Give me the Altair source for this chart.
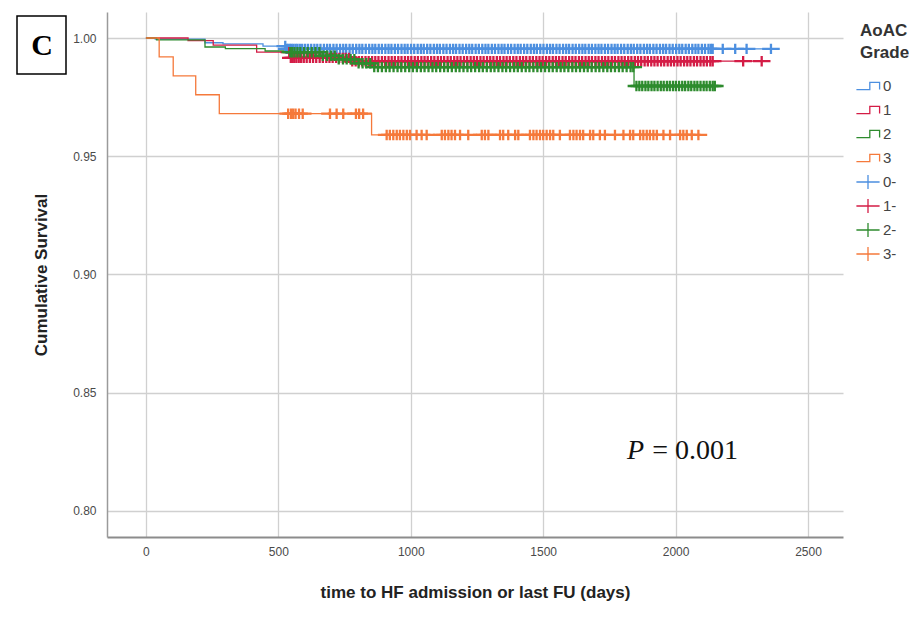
import altair as alt
import pandas as pd

# ---------------- data ----------------
grade_labels = ["0", "1", "2", "3"]
censor_labels = ["0-", "1-", "2-", "3-"]
grade_colors = ["#4c8fe0", "#d41c46", "#2e8b2e", "#f5793b"]

# Kaplan-Meier steps (days, cumulative survival)
g0_time = [0, 35, 223, 291, 442, 530, 2375]
g0_surv = [1.0, 0.9995, 0.9980, 0.9975, 0.9966, 0.9954, 0.9954]
g1_time = [0, 159, 254, 418, 544, 770, 2335]
g1_surv = [1.0, 0.9989, 0.9970, 0.9940, 0.9916, 0.9902, 0.9902]
g2_time = [0, 40, 223, 300, 450, 545, 660, 725, 800, 860, 1843, 2150]
g2_surv = [1.0, 0.9992, 0.9962, 0.9955, 0.9945, 0.9940, 0.9925, 0.9910, 0.9893, 0.9877, 0.9797, 0.9797]
g3_time = [0, 50, 103, 188, 277, 852, 2096]
g3_surv = [1.0, 0.992, 0.984, 0.976, 0.968, 0.959, 0.959]

# censored observations (days)
c0_days = [526, 531, 537, 544, 550, 557, 565, 572, 581, 590, 601, 612, 624, 636, 647, 659, 672, 684,
           695, 708, 720, 733, 745, 756, 769, 781, 794, 806, 817, 830, 843, 855, 866, 879, 891, 904,
           916, 927, 940, 952, 965, 977, 988, 1001, 1013, 1026, 1038, 1049, 1062, 1074, 1087, 1099,
           1110, 1123, 1135, 1148, 1160, 1171, 1184, 1196, 1209, 1221, 1232, 1245, 1257, 1270, 1282,
           1293, 1306, 1318, 1331, 1343, 1354, 1367, 1379, 1392, 1404, 1415, 1428, 1440, 1453, 1465,
           1476, 1489, 1501, 1514, 1526, 1537, 1550, 1562, 1575, 1587, 1598, 1611, 1623, 1636, 1648,
           1659, 1672, 1684, 1697, 1709, 1720, 1733, 1745, 1758, 1770, 1781, 1794, 1806, 1819, 1831,
           1842, 1855, 1867, 1880, 1892, 1903, 1916, 1928, 1941, 1953, 1964, 1977, 1989, 2002, 2014,
           2025, 2038, 2050, 2063, 2075, 2086, 2099, 2111, 2124, 2133, 2140, 2178, 2225, 2268, 2360]
c1_days = [541, 547, 553, 560, 568, 577, 586, 596, 607, 619, 631, 643, 656, 668, 681, 693, 705, 718,
           730, 743, 754, 767, 779, 792, 804, 816, 829, 841, 854, 866, 878, 891, 903, 916, 928, 940,
           953, 965, 978, 990, 1002, 1015, 1027, 1040, 1052, 1064, 1077, 1089, 1102, 1114, 1126, 1139,
           1151, 1164, 1176, 1188, 1201, 1213, 1226, 1238, 1250, 1263, 1275, 1288, 1300, 1312, 1325,
           1337, 1350, 1362, 1374, 1387, 1399, 1412, 1424, 1436, 1449, 1461, 1474, 1486, 1498, 1511,
           1523, 1536, 1548, 1560, 1573, 1585, 1598, 1610, 1622, 1635, 1647, 1660, 1672, 1684, 1697,
           1709, 1722, 1734, 1746, 1759, 1771, 1784, 1796, 1808, 1821, 1833, 1846, 1858, 1870, 1883,
           1895, 1908, 1920, 1932, 1945, 1957, 1970, 1982, 1994, 2007, 2019, 2032, 2044, 2056, 2069,
           2081, 2094, 2106, 2118, 2131, 2140, 2255, 2325]
c2_days = [545, 552, 561, 572, 583, 597, 611, 626, 640, 655, 668, 684, 699, 713, 728, 744, 758, 773,
           787, 803, 818, 832, 847, 862, 876, 891, 906, 920, 935, 950, 964, 979, 994, 1008, 1023, 1038,
           1052, 1067, 1082, 1096, 1111, 1126, 1140, 1155, 1170, 1184, 1199, 1214, 1228, 1243, 1258,
           1272, 1287, 1302, 1316, 1331, 1346, 1360, 1375, 1390, 1404, 1419, 1434, 1448, 1463, 1478,
           1492, 1507, 1522, 1536, 1551, 1566, 1580, 1595, 1610, 1624, 1639, 1654, 1668, 1683, 1698,
           1712, 1727, 1742, 1756, 1771, 1786, 1800, 1815, 1830, 1840, 1852, 1863, 1874, 1886, 1897,
           1909, 1920, 1932, 1944, 1955, 1967, 1978, 1990, 2001, 2013, 2025, 2036, 2048, 2059, 2071,
           2082, 2094, 2106, 2117, 2129, 2140, 2148]
c3_days = [537, 548, 556, 565, 578, 592, 695, 720, 745, 793, 805, 820,
           909, 921, 934, 947, 959, 972, 985, 997, 1022, 1041, 1060, 1117, 1129, 1142, 1154, 1167,
           1186, 1217, 1268, 1280, 1293, 1337, 1349, 1368, 1394, 1406, 1450, 1463, 1475, 1488, 1500,
           1513, 1526, 1538, 1563, 1601, 1614, 1626, 1639, 1651, 1677, 1689, 1714, 1733, 1771, 1803,
           1828, 1840, 1866, 1878, 1891, 1903, 1916, 1929, 1954, 1979, 2017, 2029, 2042, 2061, 2086]

x_ticks = [0, 500, 1000, 1500, 2000, 2500]
y_ticks = [0.80, 0.85, 0.90, 0.95, 1.00]
p_label = "P"
p_value = "= 0.001"
panel_letter = "C"

# ---------------- tables ----------------
steps = [(g0_time, g0_surv), (g1_time, g1_surv), (g2_time, g2_surv), (g3_time, g3_surv)]
censors = [c0_days, c1_days, c2_days, c3_days]


def surv_at(times, survs, t):
    s = survs[0]
    for tt, ss in zip(times, survs):
        if tt <= t:
            s = ss
    return s


line_rows = []
for g, (ts, ss) in zip(grade_labels, steps):
    for t, s in zip(ts, ss):
        line_rows.append({"time": t, "surv": s, "group": g})
line_df = pd.DataFrame(line_rows)

cens_rows = []
for g, cg, (ts, ss), days in zip(grade_labels, censor_labels, steps, censors):
    for d in days:
        cens_rows.append({"time": d, "surv": surv_at(ts, ss, d), "group": cg})
cens_df = pd.DataFrame(cens_rows)

all_groups = grade_labels + censor_labels
step_path = "M0,-0.95M0,0.95M-1.6,0.5H0.25V-0.5H1.6V0.5"
plus_path = "M-1.6,0H1.6M0,-0.95V0.95"

FONT = "Liberation Sans"

x_enc = alt.X("time:Q",
              scale=alt.Scale(domain=[-147, 2632], nice=False, zero=False),
              axis=alt.Axis(values=x_ticks, format="d", title="time to HF admission or last FU (days)",
                            grid=True, gridColor="#d0d0d0", gridWidth=1.3,
                            domainColor="#8c8c8c", domainWidth=2, ticks=False,
                            labelFont=FONT, labelFontSize=12, labelColor="#4a4a4a", labelPadding=9,
                            titleFont=FONT, titleFontSize=17, titleFontWeight="bold",
                            titleColor="#222222", titlePadding=27))
y_enc = alt.Y("surv:Q",
              scale=alt.Scale(domain=[0.789, 1.011], nice=False, zero=False),
              axis=alt.Axis(values=y_ticks, format=".2f", title="Cumulative Survival",
                            grid=True, gridColor="#d0d0d0", gridWidth=1.3,
                            domainColor="#9a9a9a", domainWidth=1.5, ticks=False,
                            labelFont=FONT, labelFontSize=12, labelColor="#4a4a4a", labelPadding=11,
                            titleFont=FONT, titleFontSize=17, titleFontWeight="bold",
                            titleColor="#222222", titlePadding=22))

legend_kw = dict(title=["AoAC", "Grade"], orient="none", legendX=753, legendY=11,
                 titleFont=FONT, titleFontSize=17, titleFontWeight="bold", titleColor="#333333",
                 titleLineHeight=22, titlePadding=16, labelFont=FONT, labelFontSize=15,
                 labelColor="#444444", labelOffset=7, symbolSize=210, symbolStrokeWidth=1.3,
                 symbolFillColor="transparent", rowPadding=4)

color_enc = alt.Color("group:N",
                      scale=alt.Scale(domain=all_groups, range=grade_colors + grade_colors),
                      legend=alt.Legend(**legend_kw))
shape_enc = alt.Shape("group:N",
                      scale=alt.Scale(domain=all_groups, range=[step_path] * 4 + [plus_path] * 4),
                      legend=alt.Legend(**legend_kw))

lines = alt.Chart(line_df).mark_line(interpolate="step-after", strokeWidth=1.3).encode(
    x=x_enc, y=y_enc, color=color_enc, detail="group:N")

ticks = alt.Chart(cens_df).mark_point(filled=False, size=121, strokeWidth=2.3, opacity=1).encode(
    x="time:Q", y="surv:Q", color=color_enc, shape=shape_enc)

p_df = pd.DataFrame({"time": [1816], "surv": [0.8220], "txt": [p_label]})
v_df = pd.DataFrame({"time": [1912], "surv": [0.8220], "txt": [p_value]})
p_text = alt.Chart(p_df).mark_text(font="Liberation Serif", fontSize=28, fontStyle="italic",
                                   align="left", baseline="alphabetic", color="#111111").encode(
    x="time:Q", y="surv:Q", text="txt:N")
v_text = alt.Chart(v_df).mark_text(font="Liberation Serif", fontSize=28,
                                   align="left", baseline="alphabetic", color="#111111").encode(
    x="time:Q", y="surv:Q", text="txt:N")

box_df = pd.DataFrame({"txt": [panel_letter]})
box = alt.Chart(box_df).mark_rect(fill="white", stroke="black", strokeWidth=1.5).encode(
    x=alt.value(-90), x2=alt.value(-41), y=alt.value(4), y2=alt.value(62))
letter = alt.Chart(box_df).mark_text(font="Liberation Serif", fontSize=30, fontWeight="bold",
                                     align="center", baseline="middle", color="black").encode(
    x=alt.value(-65), y=alt.value(34), text="txt:N")

chart = alt.layer(lines, ticks, p_text, v_text, box, letter).properties(
    width=736, height=525,
    autosize=alt.AutoSizeParams(type="none"),
    padding={"left": 99, "top": 4, "right": 66, "bottom": 68},
    background="white",
).configure_view(stroke=None)

chart.save("out.html", embed_options={"renderer": "svg", "actions": False})
